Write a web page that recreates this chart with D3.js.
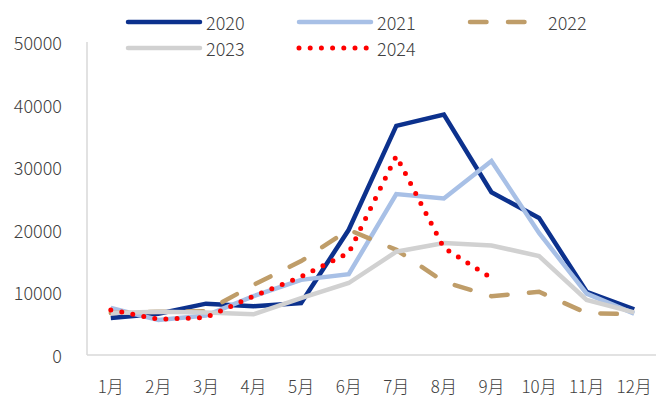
<!DOCTYPE html>
<html>
<head>
<meta charset="utf-8">
<script src="https://cdn.jsdelivr.net/npm/d3@7/dist/d3.min.js"></script>
<style>
  html, body { margin: 0; padding: 0; background: #fff; }
  svg { display: block; }
  text { font-family: "Noto Sans CJK SC", "Liberation Sans", sans-serif; font-weight: 300; fill: #404040; }
</style>
</head>
<body>
<svg id="chart" width="656" height="398"></svg>
<script>
// Monthly series, one array per year
const months = ["1月","2月","3月","4月","5月","6月","7月","8月","9月","10月","11月","12月"];
const yTicks = [0, 10000, 20000, 30000, 40000, 50000];
const years = ["2020","2021","2022","2023","2024"];
const v2020 = [5900, 6600, 8200, 7800, 8300, 20000, 36600, 38400, 26000, 21900, 10100, 7300];
const v2021 = [7500, 5600, 6300, 9400, 12000, 12900, 25700, 25000, 31000, 19500, 9800, 6600];
const v2022 = [6700, 6900, 7000, 11200, 15000, 20000, 16800, 11700, 9400, 10100, 6700, 6500];
const v2023 = [6700, 6900, 6800, 6500, 9100, 11500, 16500, 17900, 17500, 15800, 8800, 6800];
const v2024 = [7200, 5700, 6000, 9400, 12500, 16300, 31800, 17100, 12300];

const seriesValues = [v2020, v2021, v2022, v2023, v2024];
const styles = [
  { color: "#0c318d", width: 4.5, dash: null, cap: "butt" },
  { color: "#a8c0e6", width: 4.5, dash: null, cap: "butt" },
  { color: "#bf9d69", width: 4.5, dash: "16.5 21.5", cap: "round" },
  { color: "#d1d1d1", width: 4.5, dash: null, cap: "butt" },
  { color: "#ff0000", width: 5, dash: "0 11.2", cap: "round" }
];

const svg = d3.select("#chart");
const plot = { left: 87, right: 658, top: 42, bottom: 355 };

const x = d3.scaleBand().domain(months).range([plot.left, plot.right]);
const y = d3.scaleLinear().domain([0, 50000]).range([plot.bottom, plot.top]);
const cx = m => x(m) + x.bandwidth() / 2;

// axis lines
svg.append("line")
  .attr("x1", plot.left).attr("x2", plot.left)
  .attr("y1", plot.top).attr("y2", plot.bottom)
  .attr("stroke", "#d9d9d9").attr("stroke-width", 1.5);
svg.append("line")
  .attr("x1", plot.left).attr("x2", 656)
  .attr("y1", plot.bottom).attr("y2", plot.bottom)
  .attr("stroke", "#d9d9d9").attr("stroke-width", 1.5);

// y tick labels
svg.append("g").selectAll("text").data(yTicks).join("text")
  .attr("x", 62).attr("y", d => y(d))
  .attr("text-anchor", "end").attr("dominant-baseline", "central")
  .attr("font-size", 18)
  .text(d => d);

// x tick labels
svg.append("g").selectAll("text").data(months).join("text")
  .attr("x", d => cx(d)).attr("y", 385)
  .attr("text-anchor", "middle").attr("dominant-baseline", "central")
  .attr("font-size", 17)
  .text(d => d);

// series lines
const line = d3.line().x((d, i) => cx(months[i])).y(d => y(d));
seriesValues.forEach((vals, i) => {
  const s = styles[i];
  svg.append("path")
    .datum(vals)
    .attr("d", line)
    .attr("fill", "none")
    .attr("stroke", s.color)
    .attr("stroke-width", s.width)
    .attr("stroke-linejoin", "miter")
    .attr("stroke-linecap", s.cap)
    .attr("stroke-dasharray", s.dash);
});

// legend: three columns, two rows
const colX = [128, 299, 470];
const rowY = [22, 48];
const sampleLen = 72;
years.forEach((yr, i) => {
  const s = styles[i];
  const gx = colX[i % 3], gy = rowY[Math.floor(i / 3)];
  const g = svg.append("g");
  g.append("line")
    .attr("x1", gx).attr("x2", gx + sampleLen)
    .attr("y1", gy).attr("y2", gy)
    .attr("stroke", s.color)
    .attr("stroke-width", s.width)
    .attr("stroke-linecap", "round")
    .attr("stroke-dasharray", s.dash);
  g.append("text")
    .attr("x", gx + sampleLen + 6).attr("y", gy)
    .attr("dominant-baseline", "central")
    .attr("font-size", 18)
    .text(yr);
});
</script>
</body>
</html>
